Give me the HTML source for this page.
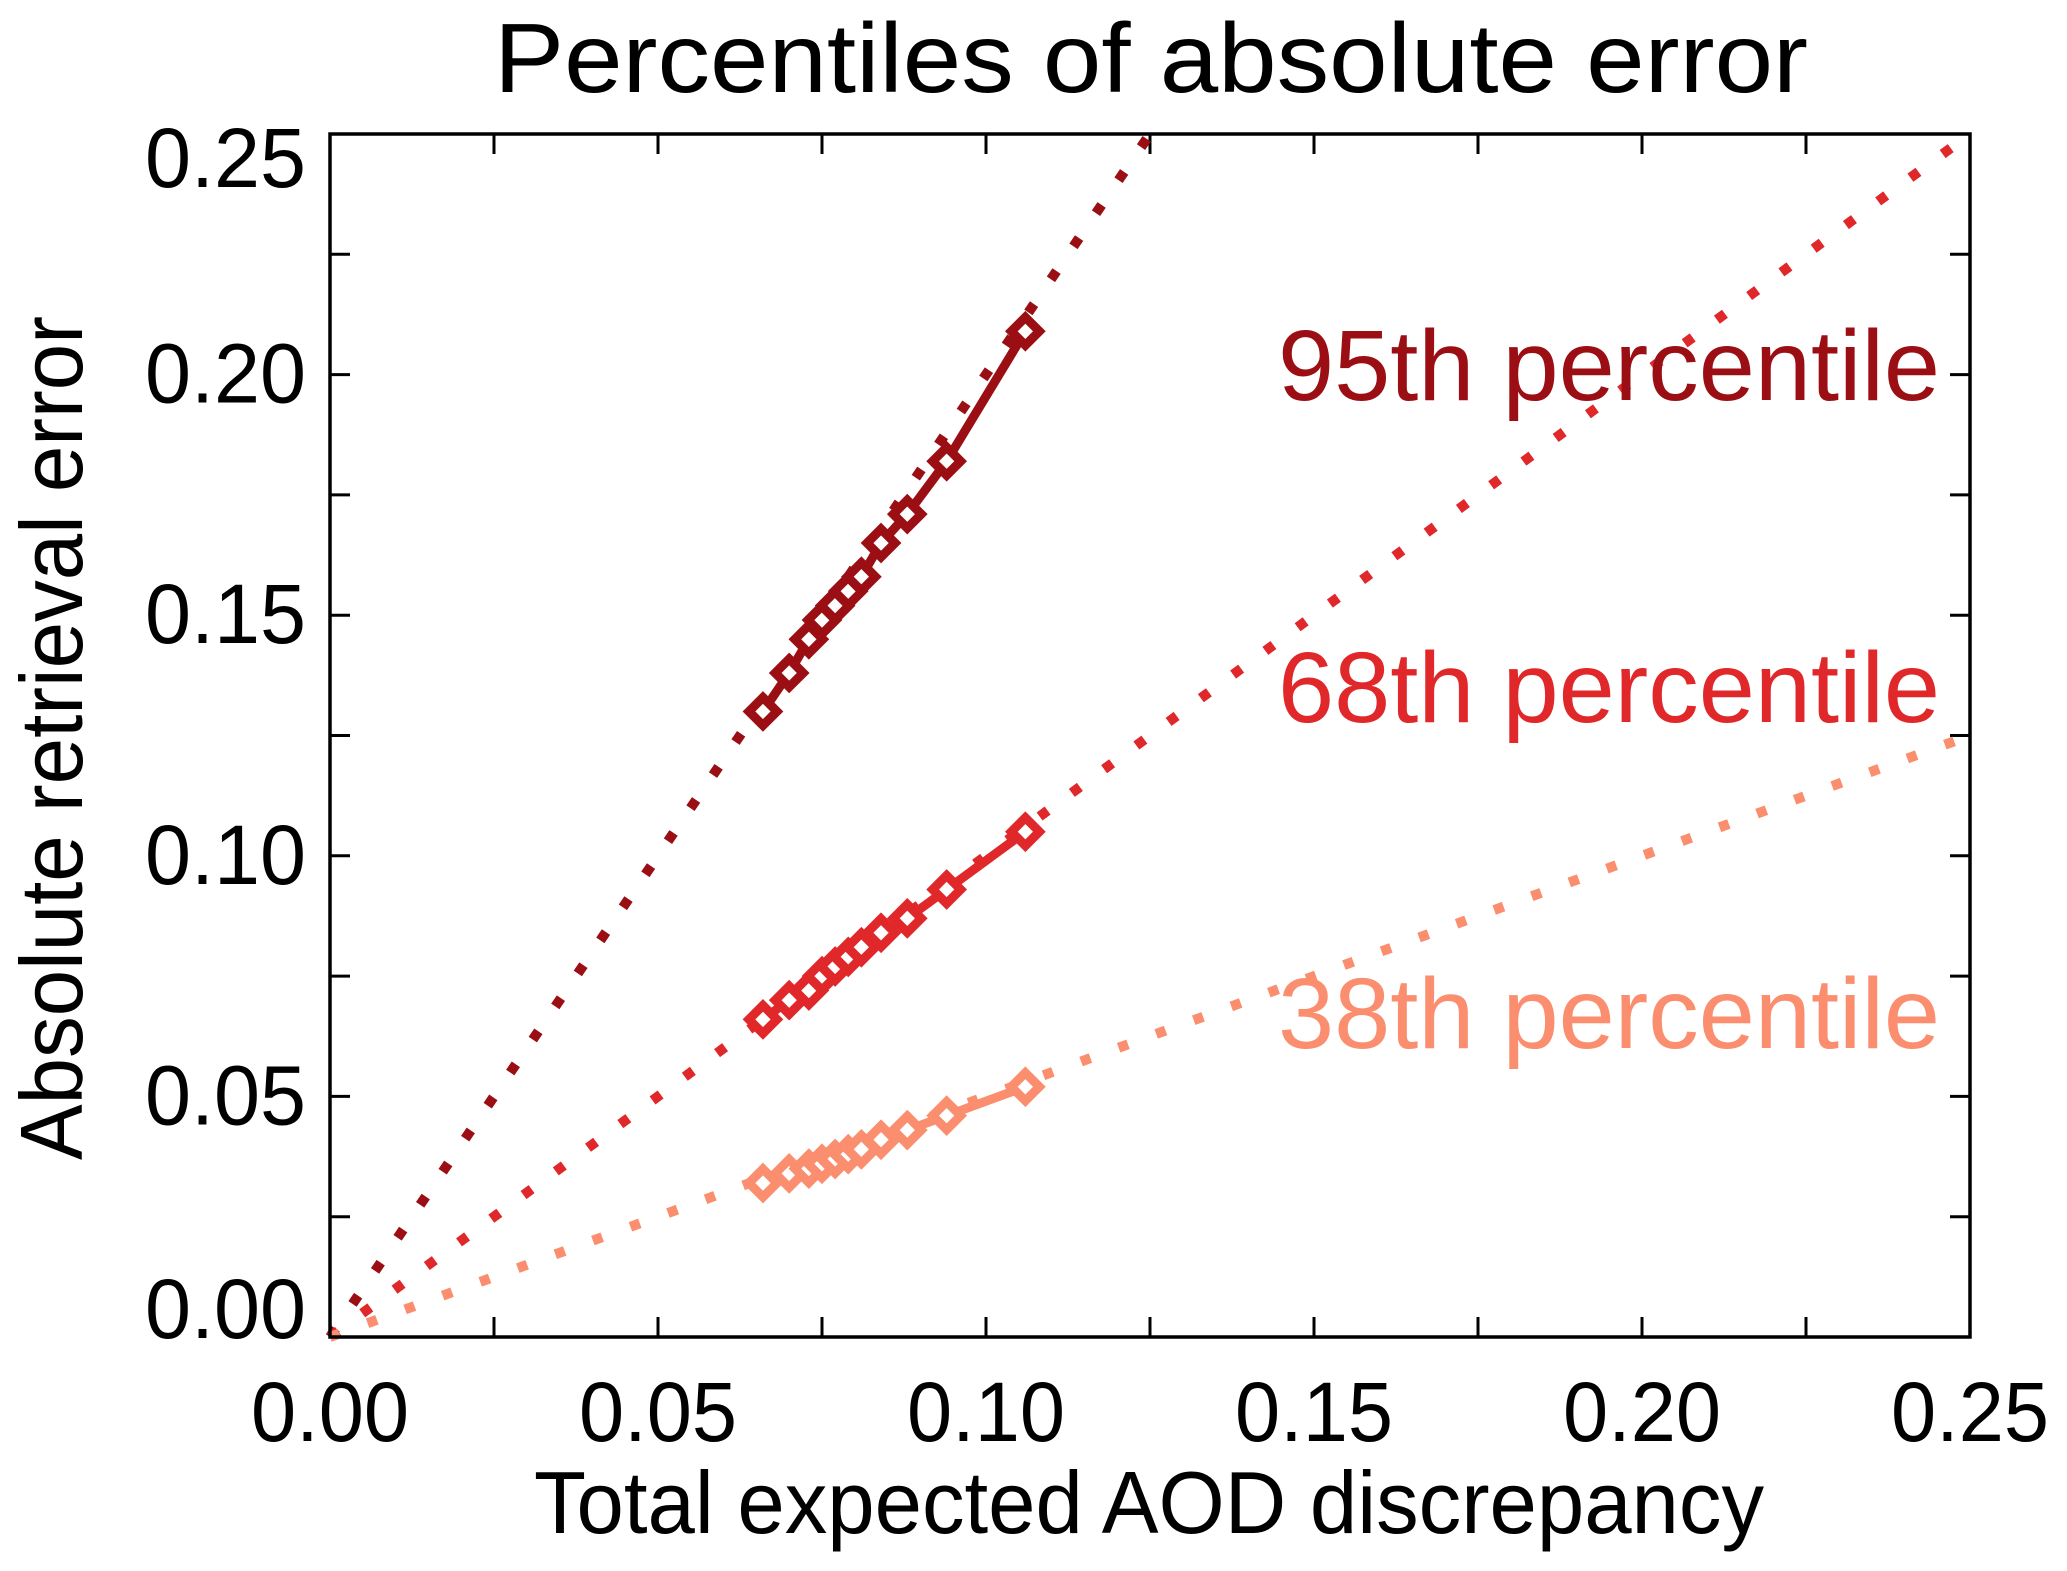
<!DOCTYPE html>
<html><head><meta charset="utf-8"><style>
body{margin:0;background:#fff}
svg{display:block;font-family:"Liberation Sans",Arial,sans-serif}
</style></head><body>
<svg id="chart" width="2067" height="1571" viewBox="0 0 2067 1571">
<text x="494" y="92" font-size="98" textLength="1314" lengthAdjust="spacingAndGlyphs" fill="#000">Percentiles of absolute error</text>
<g id="ticks"></g>
<g id="series"></g>
<rect x="330" y="134" width="1640" height="1203" fill="none" stroke="#000" stroke-width="3.5"/>
<text x="534" y="1533" font-size="88" textLength="1230" lengthAdjust="spacingAndGlyphs">Total expected AOD discrepancy</text>
<text transform="translate(82,1160) rotate(-90)" font-size="88" textLength="844" lengthAdjust="spacingAndGlyphs">Absolute retrieval error</text>
<text x="1278" y="400" font-size="100" textLength="662" lengthAdjust="spacingAndGlyphs" fill="#9b0f14">95th percentile</text>
<text x="1278" y="722" font-size="100" textLength="662" lengthAdjust="spacingAndGlyphs" fill="#e0282a">68th percentile</text>
<text x="1278" y="1048" font-size="100" textLength="662" lengthAdjust="spacingAndGlyphs" fill="#fa8e6e">38th percentile</text>
</svg>
<script>
const xTicks=[0,0.05,0.10,0.15,0.20,0.25];
const xTickLabels=["0.00","0.05","0.10","0.15","0.20","0.25"];
const yTicks=[0,0.05,0.10,0.15,0.20,0.25];
const yTickLabels=["0.00","0.05","0.10","0.15","0.20","0.25"];
const xVals=[0.066,0.070,0.073,0.075,0.077,0.079,0.081,0.084,0.088,0.094,0.106];
const p95=[0.130,0.138,0.145,0.149,0.152,0.155,0.158,0.165,0.171,0.182,0.209];
const p68=[0.066,0.070,0.072,0.075,0.077,0.079,0.081,0.084,0.087,0.093,0.105];
const p38=[0.032,0.034,0.035,0.036,0.037,0.038,0.039,0.041,0.043,0.046,0.052];
const refSlopes=[2,1,0.5];
const colors=["#9b0f14","#e0282a","#fa8e6e"];
const NS="http://www.w3.org/2000/svg";
const X0=330,X1=1970,Y0=1337,Y1=134;
const sx=v=>X0+(v/0.25)*(X1-X0);
const sy=v=>Y0-(v/0.25)*(Y0-Y1);
function mk(t,a,p){const e=document.createElementNS(NS,t);for(const k in a)e.setAttribute(k,a[k]);p.appendChild(e);return e;}
const tg=document.getElementById('ticks');
for(let i=0;i<=10;i++){
 const v=i*0.025;
 const l1=mk('line',{x1:sx(v),x2:sx(v),y1:Y0,y2:Y0-20,stroke:'#000','stroke-width':3},tg);
 
 
 const l2=mk('line',{x1:sx(v),x2:sx(v),y1:Y1,y2:Y1+20,stroke:'#000','stroke-width':3},tg);
 
 
 const l3=mk('line',{x1:X0,x2:X0+20,y1:sy(v),y2:sy(v),stroke:'#000','stroke-width':3},tg);
 
 
 const l4=mk('line',{x1:X1,x2:X1-20,y1:sy(v),y2:sy(v),stroke:'#000','stroke-width':3},tg);
 
 
}
xTicks.forEach((v,i)=>{const t=mk('text',{x:sx(v)-79,y:1441,'font-size':84,textLength:158,lengthAdjust:'spacingAndGlyphs'},tg);t.textContent=xTickLabels[i];
 
 });
yTicks.forEach((v,i)=>{
 let b=sy(v)+28; if(i===0) b=sy(v)+1; if(i===yTicks.length-1) b=sy(v)+53;
 const t=mk('text',{x:145,y:b,'font-size':84,textLength:161,lengthAdjust:'spacingAndGlyphs'},tg);t.textContent=yTickLabels[i];
 
 });
const sg=document.getElementById('series');
const series=[p95,p68,p38];
const names=['95th','68th','38th'];
series.forEach((ys,k)=>{
 const s=refSlopes[k];
 const xe=Math.min(0.25,0.25/s);
 const d=mk('line',{x1:sx(0),y1:sy(0),x2:sx(xe),y2:sy(xe*s),stroke:colors[k],'stroke-width':10,'stroke-dasharray':'10 30'},sg);
 
 
 const pts=xVals.map((x,i)=>sx(x)+','+sy(ys[i])).join(' ');
 const pl=mk('polyline',{points:pts,fill:'none',stroke:colors[k],'stroke-width':9},sg);
 
 
 xVals.forEach((x,i)=>{const cx=sx(x),cy=sy(ys[i]),r=14;
  const m=mk('polygon',{points:`${cx},${cy-r} ${cx+r},${cy} ${cx},${cy+r} ${cx-r},${cy}`,fill:'#fff',stroke:colors[k],'stroke-width':9},sg);
  
  });
});
</script>
</body></html>
